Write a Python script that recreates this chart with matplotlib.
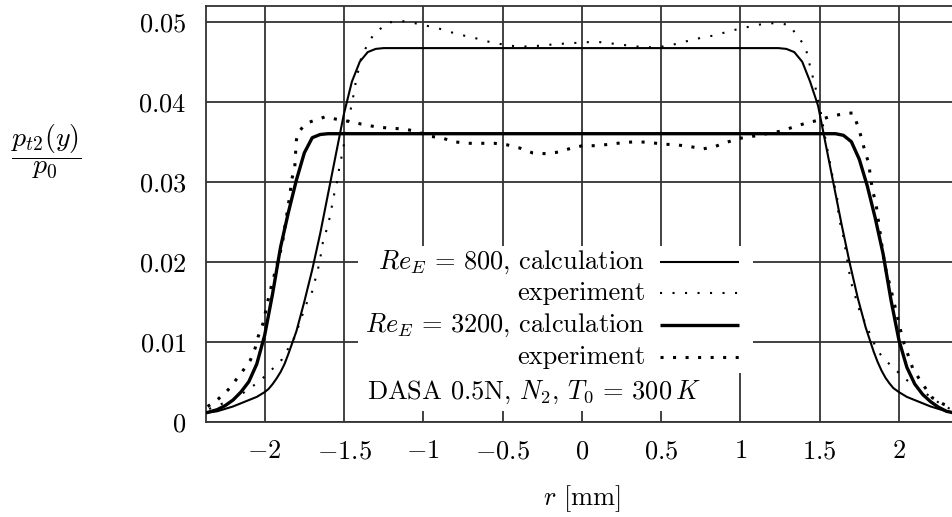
import numpy as np
import matplotlib
matplotlib.use('Agg')
import matplotlib.pyplot as plt
from matplotlib.patches import Rectangle
from matplotlib.lines import Line2D

plt.rcParams['font.family'] = 'serif'
plt.rcParams['font.serif'] = ['cmr10']
plt.rcParams['mathtext.fontset'] = 'cm'
plt.rcParams['axes.formatter.use_mathtext'] = True

# Rechnung Re_E = 800 (duenne Linie)
r_calc800 = [-2.37, -2.30, -2.20, -2.10, -2.05, -2.00, -1.975, -1.95, -1.925, -1.90,
             -1.875, -1.85, -1.80, -1.75, -1.70, -1.65, -1.60, -1.55, -1.50, -1.45,
             -1.40, -1.35, -1.30, -1.25,
             1.24, 1.29, 1.34, 1.39, 1.44, 1.49, 1.54, 1.59, 1.64, 1.69,
             1.74, 1.79, 1.84, 1.865, 1.89, 1.915, 1.94, 1.965, 2.00, 2.05,
             2.10, 2.20, 2.30, 2.37]
p_calc800 = [0.0011, 0.0013, 0.0019, 0.0027, 0.0031, 0.0037, 0.0041, 0.0047, 0.0054, 0.0062,
             0.0072, 0.0085, 0.0113, 0.0150, 0.0190, 0.0235, 0.0285, 0.0335, 0.0385, 0.0425,
             0.0450, 0.0462, 0.0466, 0.0467,
             0.0467, 0.0466, 0.0462, 0.0450, 0.0425, 0.0395, 0.0345, 0.0295, 0.0245, 0.0198,
             0.0155, 0.0118, 0.0088, 0.0075, 0.0064, 0.0055, 0.0048, 0.0042, 0.0037, 0.0031,
             0.0027, 0.0019, 0.0013, 0.0011]

# Rechnung Re_E = 3200 (dicke Linie)
r_calc3200 = [-2.37, -2.30, -2.25, -2.20, -2.15, -2.10, -2.05, -2.00, -1.95, -1.90,
              -1.85, -1.80, -1.75, -1.70, -1.65, -1.60,
              1.60, 1.65, 1.70, 1.75, 1.80, 1.85, 1.90, 1.95, 2.00,
              2.05, 2.10, 2.15, 2.20, 2.25, 2.30, 2.37]
p_calc3200 = [0.0011, 0.0015, 0.0020, 0.0027, 0.0037, 0.0050, 0.0072, 0.0108, 0.0160, 0.0218,
              0.0262, 0.0302, 0.0336, 0.0355, 0.0359, 0.0360,
              0.0360, 0.0358, 0.0350, 0.0328, 0.0295, 0.0255, 0.0210, 0.0152, 0.0102,
              0.0068, 0.0047, 0.0034, 0.0025, 0.0018, 0.0013, 0.0010]

# Experiment Re_E = 800
r_exp800 = [-2.35, -2.29, -2.20, -2.12, -2.03, -1.94, -1.89, -1.85, -1.81, -1.74,
            -1.70, -1.67, -1.65, -1.64, -1.615, -1.59, -1.56, -1.54, -1.53, -1.51,
            -1.49, -1.47, -1.455, -1.44, -1.425, -1.39, -1.35, -1.31, -1.22, -1.14,
            -1.05, -0.91, -0.81, -0.73, -0.64, -0.57, -0.48, -0.41, -0.32, -0.16,
            0.0, 0.09, 0.18, 0.26, 0.345, 0.43, 0.51, 0.59, 0.67, 0.755,
            0.84, 0.91, 0.99, 1.085, 1.165, 1.24, 1.31, 1.355, 1.41, 1.43,
            1.45, 1.47, 1.49, 1.506, 1.53, 1.58, 1.61, 1.62, 1.65, 1.69,
            1.70, 1.75, 1.81, 1.85, 1.89, 1.96, 2.05, 2.15, 2.25, 2.34]
p_exp800 = [0.0016, 0.0021, 0.0027, 0.0038, 0.0051, 0.0068, 0.0078, 0.0092, 0.0106, 0.0146,
            0.0163, 0.0186, 0.0202, 0.0219, 0.0236, 0.0255, 0.0286, 0.0303, 0.0317, 0.0336,
            0.0358, 0.0378, 0.0393, 0.0408, 0.0425, 0.0456, 0.0472, 0.0485, 0.0499, 0.0501,
            0.0498, 0.0492, 0.0486, 0.0482, 0.0478, 0.0474, 0.0471, 0.0469, 0.0469, 0.0472,
            0.0474, 0.0475, 0.0473, 0.0471, 0.0469, 0.0468, 0.0469, 0.0472, 0.0476, 0.0480,
            0.0483, 0.0487, 0.0491, 0.0495, 0.0498, 0.0498, 0.0496, 0.0483, 0.0469, 0.0452,
            0.0436, 0.0421, 0.0402, 0.0388, 0.0360, 0.0308, 0.0280, 0.0256, 0.0231, 0.0183,
            0.0173, 0.0140, 0.0113, 0.0095, 0.0082, 0.0068, 0.0052, 0.0038, 0.0024, 0.0014]

# Experiment Re_E = 3200
r_exp3200 = [-2.36, -2.30, -2.23, -2.19, -2.14, -2.09, -2.06, -2.04, -2.01, -1.97,
             -1.92, -1.89, -1.84, -1.83, -1.81, -1.805, -1.80, -1.79, -1.74, -1.62,
             -1.545, -1.46, -1.39, -1.31, -1.22, -1.13, -1.04, -0.97, -0.885, -0.81,
             -0.72, -0.63, -0.55, -0.47, -0.39, -0.31, -0.225, -0.15, -0.065, 0.006,
             0.09, 0.185, 0.265, 0.35, 0.43, 0.51, 0.60, 0.68, 0.765, 0.84,
             0.91, 0.99, 1.085, 1.165, 1.25, 1.33, 1.41, 1.495, 1.575, 1.655,
             1.71, 1.74, 1.765, 1.785, 1.81, 1.82, 1.835, 1.855, 1.91, 1.945,
             1.985, 2.025, 2.09, 2.16, 2.21, 2.28, 2.36]
p_exp3200 = [0.0019, 0.0027, 0.0040, 0.0050, 0.0063, 0.0077, 0.0092, 0.0107, 0.0123, 0.0160,
             0.0198, 0.0221, 0.0285, 0.0302, 0.0319, 0.0336, 0.0352, 0.0361, 0.0373, 0.0381,
             0.0378, 0.0375, 0.0372, 0.0369, 0.0367, 0.0366, 0.0363, 0.0357, 0.0355, 0.0350,
             0.0348, 0.0348, 0.0348, 0.0346, 0.0342, 0.0336, 0.0335, 0.0337, 0.0342, 0.0345,
             0.0345, 0.0347, 0.0349, 0.0350, 0.0349, 0.0347, 0.0346, 0.0344, 0.0341, 0.0344,
             0.0349, 0.0354, 0.0357, 0.0360, 0.0363, 0.0368, 0.0373, 0.0377, 0.0382, 0.0385,
             0.0386, 0.0370, 0.0354, 0.0338, 0.0323, 0.0306, 0.0288, 0.0273, 0.0196, 0.0169,
             0.0136, 0.0102, 0.0065, 0.0044, 0.0030, 0.0022, 0.0015]

xticks = [-2, -1.5, -1, -0.5, 0, 0.5, 1, 1.5, 2]
xtick_labels = ['$-2$', '$-1.5$', '$-1$', '$-0.5$', '$0$', '$0.5$', '$1$', '$1.5$', '$2$']
yticks = [0, 0.01, 0.02, 0.03, 0.04, 0.05]
ytick_labels = ['$0$', '$0.01$', '$0.02$', '$0.03$', '$0.04$', '$0.05$']

legend_labels = [r'$Re_E\,=\,800$, calculation', 'experiment',
                 r'$Re_E\,=\,3200$, calculation', 'experiment']

W, H = 953, 517
fs = 19

# Linienstile
st_calc800 = dict(color='black', lw=1.5, solid_capstyle='butt')
st_calc3200 = dict(color='black', lw=2.4, solid_capstyle='butt')
st_exp800 = dict(color='black', lw=1.5, linestyle=(0, (1, 5.0)), dash_capstyle='butt')
st_exp3200 = dict(color='black', lw=2.2, linestyle=(0, (1, 3.1)), dash_capstyle='butt')

fig = plt.figure(figsize=(W / 100, H / 100), dpi=100)
ax = fig.add_axes([206 / W, 1 - 421.7 / H, (957.6 - 206) / W, (421.7 - 5.7) / H])

ax.plot(r_calc800, p_calc800, zorder=3, **st_calc800)
ax.plot(r_exp800, p_exp800, zorder=3, **st_exp800)
ax.plot(r_calc3200, p_calc3200, zorder=3, **st_calc3200)
ax.plot(r_exp3200, p_exp3200, zorder=3, **st_exp3200)

ax.set_xlim(-2.37, 2.37)
ax.set_ylim(0, 0.052)
ax.set_xticks(xticks)
ax.set_xticklabels(xtick_labels)
ax.set_yticks(yticks)
ax.set_yticklabels(ytick_labels)
ax.tick_params(axis='both', length=0, labelsize=fs)
ax.tick_params(axis='y', pad=14)
ax.tick_params(axis='x', pad=13)
ax.set_axisbelow(True)
ax.grid(True, color='#333333', lw=1.3)
for s in ax.spines.values():
    s.set_color('#333333')
    s.set_linewidth(1.3)

# weisser Hintergrund der Legende (deckt das Gitter ab)
ax.add_patch(Rectangle((-1.413, 0.0061), 1.079 + 1.413, 0.0220 - 0.0061,
                       facecolor='white', edgecolor='none', zorder=1))
ax.add_patch(Rectangle((-1.413, 0.00134), 0.965 + 1.413, 0.0061 - 0.00134,
                       facecolor='white', edgecolor='none', zorder=1))

ax.set_xlabel(r'$r$ [mm]', fontsize=fs, labelpad=14)
fig.text(46 / W, 1 - 152 / H, r'$\dfrac{p_{t2}(y)}{p_0}$', fontsize=20,
         ha='center', va='center')

# Legende
rows_y = [262, 293, 325, 357]
styles = [st_calc800, st_exp800, st_calc3200, st_exp3200]
for lab, yy, st in zip(legend_labels, rows_y, styles):
    fig.text(645 / W, 1 - yy / H, lab, fontsize=fs, ha='right', va='center')
    fig.add_artist(Line2D([660 / W, 739 / W], [1 - yy / H, 1 - yy / H],
                          transform=fig.transFigure, **st))
fig.text(367 / W, 1 - 392 / H, r'DASA 0.5N, $N_2$, $T_0\,=\,300\,K$', fontsize=fs,
         ha='left', va='center')

fig.savefig('out.png', dpi=100)
